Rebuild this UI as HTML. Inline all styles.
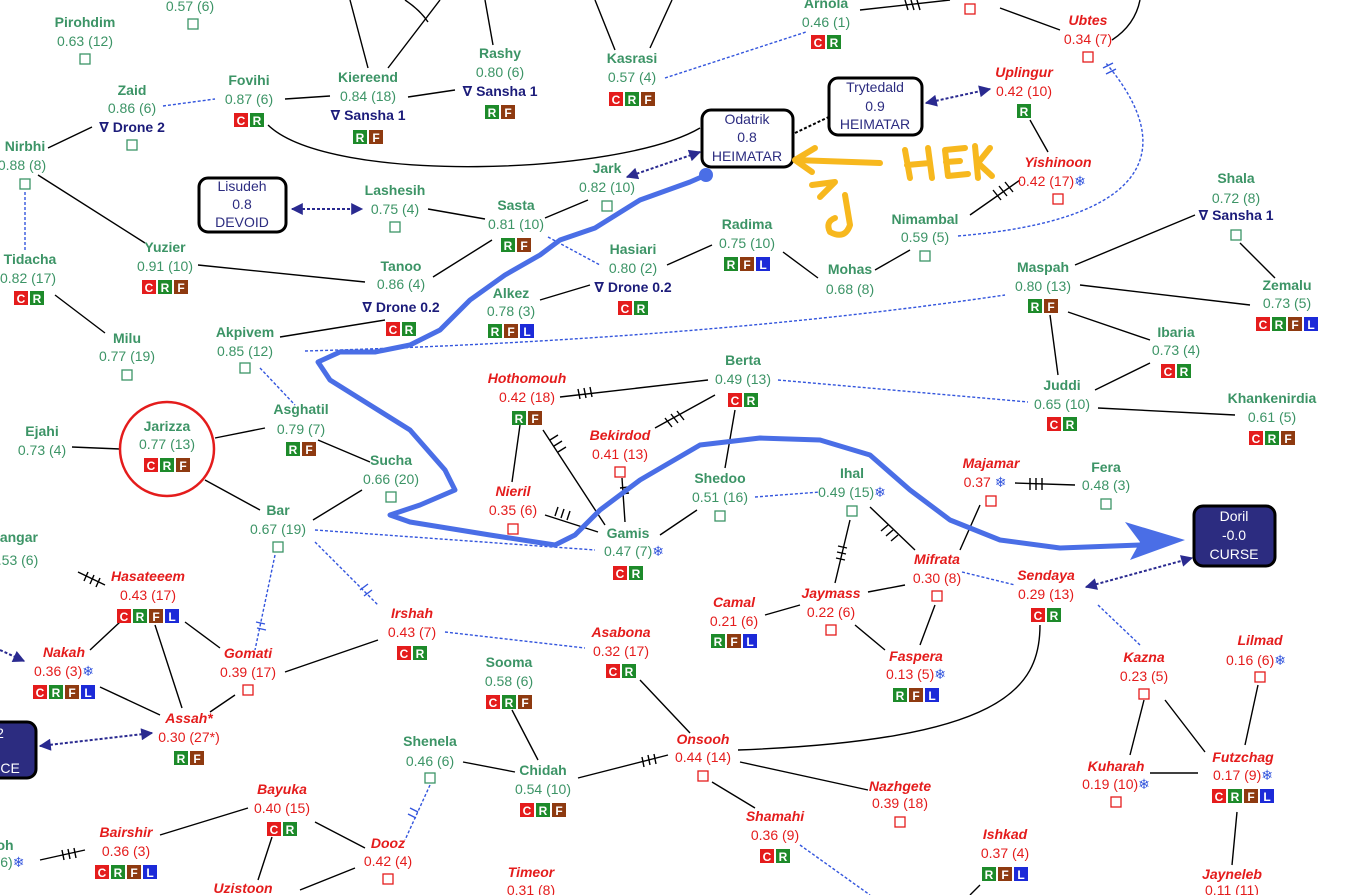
<!DOCTYPE html>
<html><head><meta charset="utf-8"><style>
html,body{margin:0;padding:0;background:#fff;overflow:hidden}
svg{display:block}
text{font-family:"Liberation Sans","DejaVu Sans",sans-serif;font-size:14px;text-anchor:middle}
.n{font-weight:bold}
.g{fill:#3c9466}
.r{fill:#e41c1c}
.rn{fill:#e41c1c;font-weight:bold;font-style:italic}
.d{fill:#1c1c7a;font-weight:bold}
.bx{fill:#2c2c80}
.e{stroke:#000;stroke-width:1.4;fill:none}
.b{stroke:#3355dd;stroke-width:1.4;stroke-dasharray:3 2;fill:none}
.a{stroke:#2a2a90;stroke-width:2;stroke-dasharray:3 2;fill:none}
.sq{fill:#fff;stroke-width:1.3}
.sg{stroke:#3c9466}.sr{stroke:#e41c1c}
.C{fill:#e41c1c}.R{fill:#1d8a2a}.F{fill:#8e3a10}.L{fill:#1c2ad8}
.bt{fill:#fff;font-weight:bold;font-size:12px}
</style></head><body>
<svg width="1347" height="895" viewBox="0 0 1347 895" xmlns="http://www.w3.org/2000/svg">
<defs>
<marker id="ah" viewBox="0 0 10 10" refX="9" refY="5" markerWidth="7" markerHeight="6" orient="auto-start-reverse"><path d="M0,0L10,5L0,10z" fill="#2a2a90"/></marker>
</defs>
<!-- black edges -->
<path class="e" d="M350,0L368,68M440,0L388,68M405,0Q420,10 428,22M485,0L493,45M595,0L615,50M672,0L650,48M285,99L330,96M408,97L455,90M268,125C330,185 620,175 700,128M860,10L950,0M1000,8L1060,30M1112,40Q1135,25 1140,0M48,148L92,127M38,175L145,243M55,295L105,333M198,265L365,282M280,337L385,320M428,209L485,219M545,218L588,200M433,277L492,240M540,300L590,285M667,265L712,245M783,252L818,278M875,270L910,250M970,215L1020,180M1030,120L1048,152M1240,243L1275,278M1075,265L1195,215M1080,285L1250,305M1068,312L1150,340M1050,315L1058,375M1095,390L1150,363M1098,408L1235,415M560,397L708,380M655,428L715,395M735,410L725,468M520,425L512,482M543,430L605,525M622,478L625,522M545,515L598,532M697,510L660,535M318,440L370,462M265,428L215,438M72,447L120,449M205,480L260,510M313,520L362,490M850,520L835,583M870,507L915,550M980,505L960,550M1015,483L1075,485M868,592L905,585M765,615L800,605M855,625L885,650M935,605L920,645M78,572L105,585M120,622L90,650M155,625L182,708M185,622L220,648M100,687L160,715M235,695L210,712M285,672L378,640M640,680L690,733M512,710L538,760M578,778L668,755M738,750C1000,740 1040,690 1040,625M740,762L868,790M712,782L755,808M463,762L515,772M1144,700L1130,755M1165,700L1205,752M1150,773L1198,773M1258,685L1245,745M1237,812L1232,865M248,808L160,835M272,837L258,880M315,822L365,848M355,868L300,890M85,850L40,860M980,885L970,895"/>
<!-- hash marks -->
<path class="e" d="M905,0l3,10M911,0l3,10M917,0l3,10M993,190l8,10M999,186l8,10M1005,182l8,10M578,389l2,10M584,388l2,10M590,387l2,10M665,418l7,9M671,414l7,9M677,411l7,9M550,440l8,-5M554,446l8,-5M558,452l8,-5M620,488l9,-1M620,494l9,-1M555,516l3,-9M561,518l3,-9M567,520l3,-9M836,558l9,2M837,552l9,2M838,546l9,2M888,525l-7,6M893,530l-7,6M898,535l-7,6M1030,478l0,12M1036,478l0,12M1042,478l0,12M88,572l-4,9M94,575l-4,9M100,578l-4,9M642,757l2,10M648,755l2,10M654,754l2,10M62,850l2,10M68,849l2,10M74,848l2,10"/>
<!-- blue dotted edges -->
<path class="b" d="M163,106L215,99M665,78L806,32M25,192L25,250M548,237L600,265M305,351Q700,340 1005,295M260,368L295,405M778,380L1028,402M755,497L820,492M315,530L595,550M315,542L378,605M275,555L255,650M445,632L585,648M962,572L1015,585M1098,605L1140,645M958,236C1150,220 1180,150 1105,62M430,785L405,840M800,845L870,895"/>
<path class="e" style="stroke:#3355dd" d="M1103,68l10,-5M1106,74l10,-5M360,590l8,-6M364,596l8,-6M256,622l9,2M257,628l9,2M410,808l8,4M408,814l8,4"/>
<!-- arrows -->
<path class="a" d="M292,209L362,209" marker-start="url(#ah)" marker-end="url(#ah)"/>
<path class="a" d="M627,177L700,152" marker-start="url(#ah)" marker-end="url(#ah)"/>
<path class="a" style="stroke:#000" d="M795,133L835,114"/>
<path class="a" d="M926,103L990,89" marker-start="url(#ah)" marker-end="url(#ah)"/>
<path class="a" d="M1086,587L1192,558" marker-start="url(#ah)" marker-end="url(#ah)"/>
<path class="a" d="M40,746L152,733" marker-start="url(#ah)" marker-end="url(#ah)"/>
<path class="a" d="M0,650L24,661" marker-end="url(#ah)"/>
<!-- boxes -->
<rect x="702" y="110" width="91" height="57" rx="9" fill="#fff" stroke="#000" stroke-width="3"/>
<text x="747" y="124" class="bx">Odatrik</text><text x="747" y="142" class="bx">0.8</text><text x="747" y="161" class="bx">HEIMATAR</text>
<rect x="829" y="78" width="93" height="57" rx="9" fill="#fff" stroke="#000" stroke-width="3"/>
<text x="875" y="92" class="bx">Trytedald</text><text x="875" y="111" class="bx">0.9</text><text x="875" y="129" class="bx">HEIMATAR</text>
<rect x="199" y="178" width="87" height="54" rx="9" fill="#fff" stroke="#000" stroke-width="3"/>
<text x="242" y="191" class="bx">Lisudeh</text><text x="242" y="209" class="bx">0.8</text><text x="242" y="227" class="bx">DEVOID</text>
<rect x="1194" y="506" width="81" height="60" rx="9" fill="#2c2c80" stroke="#000" stroke-width="3"/>
<text x="1234" y="521" fill="#fff">Doril</text><text x="1234" y="540" fill="#fff">-0.0</text><text x="1234" y="559" fill="#fff">CURSE</text>
<rect x="-20" y="722" width="56" height="56" rx="9" fill="#2c2c80" stroke="#000" stroke-width="3"/>
<text x="0" y="738" fill="#fff">2</text><text x="5" y="773" fill="#fff">NCE</text>
<circle cx="167" cy="449" r="47" fill="none" stroke="#e41c1c" stroke-width="2.5"/>
<!-- nodes -->
<g>
<text x="85" y="27" class="n g">Pirohdim</text><text x="85" y="46" class="g">0.63 (12)</text><rect x="80" y="54" width="10" height="10" class="sq sg"/>
<text x="190" y="11" class="g">0.57 (6)</text><rect x="188" y="19" width="10" height="10" class="sq sg"/>
<text x="826" y="8" class="n g">Arnola</text><text x="826" y="27" class="g">0.46 (1)</text>
<text x="1088" y="25" class="rn">Ubtes</text><text x="1088" y="44" class="r">0.34 (7)</text><rect x="1083" y="52" width="10" height="10" class="sq sr"/>
<rect x="965" y="4" width="10" height="10" class="sq sr"/>
<text x="500" y="58" class="n g">Rashy</text><text x="500" y="77" class="g">0.80 (6)</text><text x="500" y="96" class="d">∇ Sansha 1</text>
<text x="632" y="63" class="n g">Kasrasi</text><text x="632" y="82" class="g">0.57 (4)</text>
<text x="132" y="95" class="n g">Zaid</text><text x="132" y="113" class="g">0.86 (6)</text><text x="132" y="132" class="d">∇ Drone 2</text><rect x="127" y="140" width="10" height="10" class="sq sg"/>
<text x="249" y="85" class="n g">Fovihi</text><text x="249" y="104" class="g">0.87 (6)</text>
<text x="368" y="82" class="n g">Kiereend</text><text x="368" y="101" class="g">0.84 (18)</text><text x="368" y="120" class="d">∇ Sansha 1</text>
<text x="1024" y="77" class="rn">Uplingur</text><text x="1024" y="96" class="r">0.42 (10)</text>
<text x="1058" y="167" class="rn">Yishinoon</text><text x="1052" y="186" class="r">0.42 (17)<tspan fill="#3355dd">❄</tspan></text><rect x="1053" y="194" width="10" height="10" class="sq sr"/>
<text x="25" y="151" class="n g">Nirbhi</text><text x="22" y="170" class="g">0.88 (8)</text><rect x="20" y="179" width="10" height="10" class="sq sg"/>
<text x="395" y="195" class="n g">Lashesih</text><text x="395" y="214" class="g">0.75 (4)</text><rect x="390" y="222" width="10" height="10" class="sq sg"/>
<text x="607" y="173" class="n g">Jark</text><text x="607" y="192" class="g">0.82 (10)</text><rect x="602" y="201" width="10" height="10" class="sq sg"/>
<text x="516" y="210" class="n g">Sasta</text><text x="516" y="229" class="g">0.81 (10)</text>
<text x="747" y="229" class="n g">Radima</text><text x="747" y="248" class="g">0.75 (10)</text>
<text x="633" y="254" class="n g">Hasiari</text><text x="633" y="273" class="g">0.80 (2)</text><text x="633" y="292" class="d">∇ Drone 0.2</text>
<text x="925" y="224" class="n g">Nimambal</text><text x="925" y="242" class="g">0.59 (5)</text><rect x="920" y="251" width="10" height="10" class="sq sg"/>
<text x="1236" y="183" class="n g">Shala</text><text x="1236" y="203" class="g">0.72 (8)</text><text x="1236" y="220" class="d">∇ Sansha 1</text><rect x="1231" y="230" width="10" height="10" class="sq sg"/>
<text x="30" y="264" class="n g">Tidacha</text><text x="28" y="283" class="g">0.82 (17)</text>
<text x="165" y="252" class="n g">Yuzier</text><text x="165" y="271" class="g">0.91 (10)</text>
<text x="401" y="271" class="n g">Tanoo</text><text x="401" y="289" class="g">0.86 (4)</text><text x="401" y="312" class="d">∇ Drone 0.2</text>
<text x="511" y="298" class="n g">Alkez</text><text x="511" y="316" class="g">0.78 (3)</text>
<text x="850" y="274" class="n g">Mohas</text><text x="850" y="294" class="g">0.68 (8)</text>
<text x="1043" y="272" class="n g">Maspah</text><text x="1043" y="291" class="g">0.80 (13)</text>
<text x="1287" y="290" class="n g">Zemalu</text><text x="1287" y="308" class="g">0.73 (5)</text>
<text x="127" y="343" class="n g">Milu</text><text x="127" y="361" class="g">0.77 (19)</text><rect x="122" y="370" width="10" height="10" class="sq sg"/>
<text x="245" y="337" class="n g">Akpivem</text><text x="245" y="356" class="g">0.85 (12)</text><rect x="240" y="363" width="10" height="10" class="sq sg"/>
<text x="1176" y="337" class="n g">Ibaria</text><text x="1176" y="355" class="g">0.73 (4)</text>
<text x="527" y="383" class="rn">Hothomouh</text><text x="527" y="402" class="r">0.42 (18)</text>
<text x="743" y="365" class="n g">Berta</text><text x="743" y="384" class="g">0.49 (13)</text>
<text x="1062" y="390" class="n g">Juddi</text><text x="1062" y="409" class="g">0.65 (10)</text>
<text x="1272" y="403" class="n g">Khankenirdia</text><text x="1272" y="422" class="g">0.61 (5)</text>
<text x="301" y="414" class="n g">Asghatil</text><text x="301" y="434" class="g">0.79 (7)</text>
<text x="42" y="436" class="n g">Ejahi</text><text x="42" y="455" class="g">0.73 (4)</text>
<text x="167" y="431" class="n g">Jarizza</text><text x="167" y="449" class="g">0.77 (13)</text>
<text x="620" y="440" class="rn">Bekirdod</text><text x="620" y="459" class="r">0.41 (13)</text><rect x="615" y="467" width="10" height="10" class="sq sr"/>
<text x="391" y="465" class="n g">Sucha</text><text x="391" y="484" class="g">0.66 (20)</text><rect x="386" y="492" width="10" height="10" class="sq sg"/>
<text x="852" y="478" class="n g">Ihal</text><text x="852" y="497" class="g">0.49 (15)<tspan fill="#3355dd">❄</tspan></text><rect x="847" y="506" width="10" height="10" class="sq sg"/>
<text x="991" y="468" class="rn">Majamar</text><text x="985" y="487" class="r">0.37 <tspan fill="#3355dd">❄</tspan></text><rect x="986" y="496" width="10" height="10" class="sq sr"/>
<text x="1106" y="472" class="n g">Fera</text><text x="1106" y="490" class="g">0.48 (3)</text><rect x="1101" y="499" width="10" height="10" class="sq sg"/>
<text x="720" y="483" class="n g">Shedoo</text><text x="720" y="502" class="g">0.51 (16)</text><rect x="715" y="511" width="10" height="10" class="sq sg"/>
<text x="513" y="496" class="rn">Nieril</text><text x="513" y="515" class="r">0.35 (6)</text><rect x="508" y="524" width="10" height="10" class="sq sr"/>
<text x="278" y="515" class="n g">Bar</text><text x="278" y="534" class="g">0.67 (19)</text><rect x="273" y="542" width="10" height="10" class="sq sg"/>
<text x="628" y="538" class="n g">Gamis</text><text x="634" y="556" class="g">0.47 (7)<tspan fill="#3355dd">❄</tspan></text>
<text x="15" y="542" class="n g">Jangar</text><text x="18" y="565" class="g">.53 (6)</text>
<text x="148" y="581" class="rn">Hasateeem</text><text x="148" y="600" class="r">0.43 (17)</text>
<text x="937" y="564" class="rn">Mifrata</text><text x="937" y="583" class="r">0.30 (8)</text><rect x="932" y="591" width="10" height="10" class="sq sr"/>
<text x="1046" y="580" class="rn">Sendaya</text><text x="1046" y="599" class="r">0.29 (13)</text>
<text x="831" y="598" class="rn">Jaymass</text><text x="831" y="617" class="r">0.22 (6)</text><rect x="826" y="625" width="10" height="10" class="sq sr"/>
<text x="734" y="607" class="rn">Camal</text><text x="734" y="626" class="r">0.21 (6)</text>
<text x="412" y="618" class="rn">Irshah</text><text x="412" y="637" class="r">0.43 (7)</text>
<text x="621" y="637" class="rn">Asabona</text><text x="621" y="656" class="r">0.32 (17)</text>
<text x="1260" y="645" class="rn">Lilmad</text><text x="1256" y="665" class="r">0.16 (6)<tspan fill="#3355dd">❄</tspan></text><rect x="1255" y="672" width="10" height="10" class="sq sr"/>
<text x="64" y="657" class="rn">Nakah</text><text x="64" y="676" class="r">0.36 (3)<tspan fill="#3355dd">❄</tspan></text>
<text x="248" y="658" class="rn">Gomati</text><text x="248" y="677" class="r">0.39 (17)</text><rect x="243" y="685" width="10" height="10" class="sq sr"/>
<text x="916" y="661" class="rn">Faspera</text><text x="916" y="679" class="r">0.13 (5)<tspan fill="#3355dd">❄</tspan></text>
<text x="1144" y="662" class="rn">Kazna</text><text x="1144" y="681" class="r">0.23 (5)</text><rect x="1139" y="689" width="10" height="10" class="sq sr"/>
<text x="509" y="667" class="n g">Sooma</text><text x="509" y="686" class="g">0.58 (6)</text>
<text x="189" y="723" class="rn">Assah*</text><text x="189" y="742" class="r">0.30 (27*)</text>
<text x="703" y="744" class="rn">Onsooh</text><text x="703" y="762" class="r">0.44 (14)</text><rect x="698" y="771" width="10" height="10" class="sq sr"/>
<text x="430" y="746" class="n g">Shenela</text><text x="430" y="766" class="g">0.46 (6)</text><rect x="425" y="773" width="10" height="10" class="sq sg"/>
<text x="543" y="775" class="n g">Chidah</text><text x="543" y="794" class="g">0.54 (10)</text>
<text x="1116" y="771" class="rn">Kuharah</text><text x="1116" y="789" class="r">0.19 (10)<tspan fill="#3355dd">❄</tspan></text><rect x="1111" y="797" width="10" height="10" class="sq sr"/>
<text x="1243" y="762" class="rn">Futzchag</text><text x="1243" y="780" class="r">0.17 (9)<tspan fill="#3355dd">❄</tspan></text>
<text x="900" y="791" class="rn">Nazhgete</text><text x="900" y="808" class="r">0.39 (18)</text><rect x="895" y="817" width="10" height="10" class="sq sr"/>
<text x="282" y="794" class="rn">Bayuka</text><text x="282" y="813" class="r">0.40 (15)</text>
<text x="775" y="821" class="rn">Shamahi</text><text x="775" y="840" class="r">0.36 (9)</text>
<text x="1005" y="839" class="rn">Ishkad</text><text x="1005" y="858" class="r">0.37 (4)</text>
<text x="126" y="837" class="rn">Bairshir</text><text x="126" y="856" class="r">0.36 (3)</text>
<text x="388" y="848" class="rn">Dooz</text><text x="388" y="866" class="r">0.42 (4)</text><rect x="383" y="874" width="10" height="10" class="sq sr"/>
<text x="531" y="877" class="rn">Timeor</text><text x="531" y="895" class="r">0.31 (8)</text>
<text x="1232" y="879" class="rn">Jayneleb</text><text x="1232" y="895" class="r">0.11 (11)</text>
<text x="243" y="893" class="rn">Uzistoon</text>
<text x="5" y="850" class="n g">oh</text><text x="10" y="867" class="g">(6)<tspan fill="#3355dd">❄</tspan></text>
</g>
<!-- badges -->
<g>
<g transform="translate(811,35)"><rect width="14" height="14" class="C"/><text x="7" y="12" class="bt">C</text><rect x="16" width="14" height="14" class="R"/><text x="23" y="12" class="bt">R</text></g>
<g transform="translate(485,105)"><rect width="14" height="14" class="R"/><text x="7" y="12" class="bt">R</text><rect x="16" width="14" height="14" class="F"/><text x="23" y="12" class="bt">F</text></g>
<g transform="translate(609,92)"><rect width="14" height="14" class="C"/><text x="7" y="12" class="bt">C</text><rect x="16" width="14" height="14" class="R"/><text x="23" y="12" class="bt">R</text><rect x="32" width="14" height="14" class="F"/><text x="39" y="12" class="bt">F</text></g>
<g transform="translate(234,113)"><rect width="14" height="14" class="C"/><text x="7" y="12" class="bt">C</text><rect x="16" width="14" height="14" class="R"/><text x="23" y="12" class="bt">R</text></g>
<g transform="translate(353,130)"><rect width="14" height="14" class="R"/><text x="7" y="12" class="bt">R</text><rect x="16" width="14" height="14" class="F"/><text x="23" y="12" class="bt">F</text></g>
<g transform="translate(1017,104)"><rect width="14" height="14" class="R"/><text x="7" y="12" class="bt">R</text></g>
<g transform="translate(501,238)"><rect width="14" height="14" class="R"/><text x="7" y="12" class="bt">R</text><rect x="16" width="14" height="14" class="F"/><text x="23" y="12" class="bt">F</text></g>
<g transform="translate(724,257)"><rect width="14" height="14" class="R"/><text x="7" y="12" class="bt">R</text><rect x="16" width="14" height="14" class="F"/><text x="23" y="12" class="bt">F</text><rect x="32" width="14" height="14" class="L"/><text x="39" y="12" class="bt">L</text></g>
<g transform="translate(618,301)"><rect width="14" height="14" class="C"/><text x="7" y="12" class="bt">C</text><rect x="16" width="14" height="14" class="R"/><text x="23" y="12" class="bt">R</text></g>
<g transform="translate(14,291)"><rect width="14" height="14" class="C"/><text x="7" y="12" class="bt">C</text><rect x="16" width="14" height="14" class="R"/><text x="23" y="12" class="bt">R</text></g>
<g transform="translate(142,280)"><rect width="14" height="14" class="C"/><text x="7" y="12" class="bt">C</text><rect x="16" width="14" height="14" class="R"/><text x="23" y="12" class="bt">R</text><rect x="32" width="14" height="14" class="F"/><text x="39" y="12" class="bt">F</text></g>
<g transform="translate(386,322)"><rect width="14" height="14" class="C"/><text x="7" y="12" class="bt">C</text><rect x="16" width="14" height="14" class="R"/><text x="23" y="12" class="bt">R</text></g>
<g transform="translate(488,324)"><rect width="14" height="14" class="R"/><text x="7" y="12" class="bt">R</text><rect x="16" width="14" height="14" class="F"/><text x="23" y="12" class="bt">F</text><rect x="32" width="14" height="14" class="L"/><text x="39" y="12" class="bt">L</text></g>
<g transform="translate(1028,299)"><rect width="14" height="14" class="R"/><text x="7" y="12" class="bt">R</text><rect x="16" width="14" height="14" class="F"/><text x="23" y="12" class="bt">F</text></g>
<g transform="translate(1256,317)"><rect width="14" height="14" class="C"/><text x="7" y="12" class="bt">C</text><rect x="16" width="14" height="14" class="R"/><text x="23" y="12" class="bt">R</text><rect x="32" width="14" height="14" class="F"/><text x="39" y="12" class="bt">F</text><rect x="48" width="14" height="14" class="L"/><text x="55" y="12" class="bt">L</text></g>
<g transform="translate(1161,364)"><rect width="14" height="14" class="C"/><text x="7" y="12" class="bt">C</text><rect x="16" width="14" height="14" class="R"/><text x="23" y="12" class="bt">R</text></g>
<g transform="translate(512,411)"><rect width="14" height="14" class="R"/><text x="7" y="12" class="bt">R</text><rect x="16" width="14" height="14" class="F"/><text x="23" y="12" class="bt">F</text></g>
<g transform="translate(728,393)"><rect width="14" height="14" class="C"/><text x="7" y="12" class="bt">C</text><rect x="16" width="14" height="14" class="R"/><text x="23" y="12" class="bt">R</text></g>
<g transform="translate(1047,417)"><rect width="14" height="14" class="C"/><text x="7" y="12" class="bt">C</text><rect x="16" width="14" height="14" class="R"/><text x="23" y="12" class="bt">R</text></g>
<g transform="translate(1249,431)"><rect width="14" height="14" class="C"/><text x="7" y="12" class="bt">C</text><rect x="16" width="14" height="14" class="R"/><text x="23" y="12" class="bt">R</text><rect x="32" width="14" height="14" class="F"/><text x="39" y="12" class="bt">F</text></g>
<g transform="translate(286,442)"><rect width="14" height="14" class="R"/><text x="7" y="12" class="bt">R</text><rect x="16" width="14" height="14" class="F"/><text x="23" y="12" class="bt">F</text></g>
<g transform="translate(144,458)"><rect width="14" height="14" class="C"/><text x="7" y="12" class="bt">C</text><rect x="16" width="14" height="14" class="R"/><text x="23" y="12" class="bt">R</text><rect x="32" width="14" height="14" class="F"/><text x="39" y="12" class="bt">F</text></g>
<g transform="translate(613,566)"><rect width="14" height="14" class="C"/><text x="7" y="12" class="bt">C</text><rect x="16" width="14" height="14" class="R"/><text x="23" y="12" class="bt">R</text></g>
<g transform="translate(117,609)"><rect width="14" height="14" class="C"/><text x="7" y="12" class="bt">C</text><rect x="16" width="14" height="14" class="R"/><text x="23" y="12" class="bt">R</text><rect x="32" width="14" height="14" class="F"/><text x="39" y="12" class="bt">F</text><rect x="48" width="14" height="14" class="L"/><text x="55" y="12" class="bt">L</text></g>
<g transform="translate(1031,608)"><rect width="14" height="14" class="C"/><text x="7" y="12" class="bt">C</text><rect x="16" width="14" height="14" class="R"/><text x="23" y="12" class="bt">R</text></g>
<g transform="translate(711,634)"><rect width="14" height="14" class="R"/><text x="7" y="12" class="bt">R</text><rect x="16" width="14" height="14" class="F"/><text x="23" y="12" class="bt">F</text><rect x="32" width="14" height="14" class="L"/><text x="39" y="12" class="bt">L</text></g>
<g transform="translate(397,646)"><rect width="14" height="14" class="C"/><text x="7" y="12" class="bt">C</text><rect x="16" width="14" height="14" class="R"/><text x="23" y="12" class="bt">R</text></g>
<g transform="translate(606,664)"><rect width="14" height="14" class="C"/><text x="7" y="12" class="bt">C</text><rect x="16" width="14" height="14" class="R"/><text x="23" y="12" class="bt">R</text></g>
<g transform="translate(33,685)"><rect width="14" height="14" class="C"/><text x="7" y="12" class="bt">C</text><rect x="16" width="14" height="14" class="R"/><text x="23" y="12" class="bt">R</text><rect x="32" width="14" height="14" class="F"/><text x="39" y="12" class="bt">F</text><rect x="48" width="14" height="14" class="L"/><text x="55" y="12" class="bt">L</text></g>
<g transform="translate(893,688)"><rect width="14" height="14" class="R"/><text x="7" y="12" class="bt">R</text><rect x="16" width="14" height="14" class="F"/><text x="23" y="12" class="bt">F</text><rect x="32" width="14" height="14" class="L"/><text x="39" y="12" class="bt">L</text></g>
<g transform="translate(486,695)"><rect width="14" height="14" class="C"/><text x="7" y="12" class="bt">C</text><rect x="16" width="14" height="14" class="R"/><text x="23" y="12" class="bt">R</text><rect x="32" width="14" height="14" class="F"/><text x="39" y="12" class="bt">F</text></g>
<g transform="translate(174,751)"><rect width="14" height="14" class="R"/><text x="7" y="12" class="bt">R</text><rect x="16" width="14" height="14" class="F"/><text x="23" y="12" class="bt">F</text></g>
<g transform="translate(520,803)"><rect width="14" height="14" class="C"/><text x="7" y="12" class="bt">C</text><rect x="16" width="14" height="14" class="R"/><text x="23" y="12" class="bt">R</text><rect x="32" width="14" height="14" class="F"/><text x="39" y="12" class="bt">F</text></g>
<g transform="translate(1212,789)"><rect width="14" height="14" class="C"/><text x="7" y="12" class="bt">C</text><rect x="16" width="14" height="14" class="R"/><text x="23" y="12" class="bt">R</text><rect x="32" width="14" height="14" class="F"/><text x="39" y="12" class="bt">F</text><rect x="48" width="14" height="14" class="L"/><text x="55" y="12" class="bt">L</text></g>
<g transform="translate(267,822)"><rect width="14" height="14" class="C"/><text x="7" y="12" class="bt">C</text><rect x="16" width="14" height="14" class="R"/><text x="23" y="12" class="bt">R</text></g>
<g transform="translate(760,849)"><rect width="14" height="14" class="C"/><text x="7" y="12" class="bt">C</text><rect x="16" width="14" height="14" class="R"/><text x="23" y="12" class="bt">R</text></g>
<g transform="translate(982,867)"><rect width="14" height="14" class="R"/><text x="7" y="12" class="bt">R</text><rect x="16" width="14" height="14" class="F"/><text x="23" y="12" class="bt">F</text><rect x="32" width="14" height="14" class="L"/><text x="39" y="12" class="bt">L</text></g>
<g transform="translate(95,865)"><rect width="14" height="14" class="C"/><text x="7" y="12" class="bt">C</text><rect x="16" width="14" height="14" class="R"/><text x="23" y="12" class="bt">R</text><rect x="32" width="14" height="14" class="F"/><text x="39" y="12" class="bt">F</text><rect x="48" width="14" height="14" class="L"/><text x="55" y="12" class="bt">L</text></g>
</g>
<!-- hand-drawn blue route -->
<path d="M706,175L690,182L640,200L595,228L560,240L540,255L505,275L470,300L440,330L410,345L375,352L340,352L318,362L330,380L370,405L410,430L445,470L455,490L420,505L390,515L410,522L490,535L555,545L575,535L600,510L640,480L700,445L760,438L820,440L870,455L910,490L950,520L1000,540L1060,548L1140,545" fill="none" stroke="#4a6ee6" stroke-width="5" stroke-linejoin="round" stroke-linecap="round"/>
<circle cx="706" cy="175" r="7" fill="#4a6ee6"/>
<path d="M1125,522L1185,540L1130,560L1140,542z" fill="#4a6ee6"/>
<!-- orange annotations -->
<g fill="none" stroke="#f7b81e" stroke-width="6" stroke-linecap="round" stroke-linejoin="round">
<path d="M795,160L880,163M795,160L815,148M795,160L812,172"/>
<path d="M812,185L835,182L820,197M845,195L850,225Q845,240 830,232Q825,222 835,218"/>
<path d="M905,150L910,178M907,165L930,163M928,148L932,178M945,150L948,176M945,150L965,148M946,162L960,161M948,176L968,174M975,146L978,178M990,148L978,163L992,176"/>
</g>
</svg>
</body></html>
